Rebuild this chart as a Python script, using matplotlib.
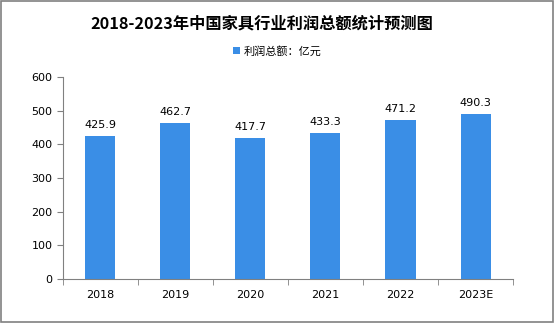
import matplotlib.pyplot as plt
import numpy as np

plt.rcParams['font.family'] = ['Noto Sans CJK SC', 'DejaVu Sans']

years = ['2018', '2019', '2020', '2021', '2022', '2023E']
profit = [425.9, 462.7, 417.7, 433.3, 471.2, 490.3]

fig = plt.figure(figsize=(5.54, 3.23), dpi=100)
ax = fig.add_axes([0.1137, 0.1362, 0.8123, 0.6254])

x = np.arange(len(years))
bars = ax.bar(x, profit, width=0.4, color='#3a8ee6', label='利润总额：亿元')
for xi, v in zip(x, profit):
    ax.text(xi, v + 18, f'{v:.1f}', ha='center', va='bottom', fontsize=8, family=['DejaVu Sans'])

ax.set_xlim(-0.5, len(years) - 0.5)
ax.set_ylim(0, 600)
ax.set_yticks(range(0, 601, 100))
ax.set_xticks(x)
ax.set_xticklabels(years, fontsize=8, family=['DejaVu Sans'])
ax.set_xticks(np.arange(-0.5, len(years), 1), minor=True)
ax.tick_params(axis='x', which='major', length=0, pad=8)
ax.tick_params(axis='x', which='minor', length=4, color='#808080')
ax.tick_params(axis='y', length=4, color='#808080', labelsize=8)
for lab in ax.get_yticklabels():
    lab.set_family(['DejaVu Sans'])
for s in ['top', 'right']:
    ax.spines[s].set_visible(False)
ax.spines['left'].set_color('#808080')
ax.spines['bottom'].set_color('#808080')

fig.text(0.472, 0.928, '2018-2023年中国家具行业利润总额统计预测图', ha='center', va='center',
         fontsize=11.7, fontweight='bold')
fig.legend(handles=[bars], labels=['利润总额：亿元'], loc='center', bbox_to_anchor=(0.5, 0.842),
           frameon=False, fontsize=8, handlelength=0.7, handleheight=0.7, handletextpad=0.3)

fig.patches.append(plt.Rectangle((0.002, 0.003), 0.996, 0.994, transform=fig.transFigure,
                                 fill=False, edgecolor='#808080', linewidth=1.2))

fig.savefig('out.png', dpi=100)
